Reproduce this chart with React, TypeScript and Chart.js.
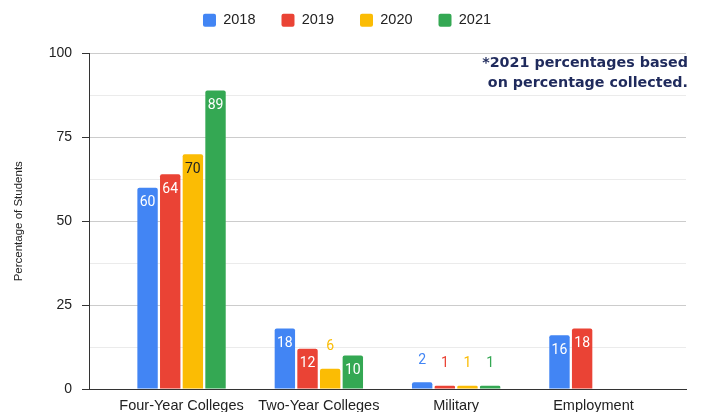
import React, { useEffect, useRef } from "react";
import { Chart, registerables } from "chart.js";

Chart.register(...registerables);

const categories = ["Four-Year Colleges", "Two-Year Colleges", "Military", "Employment"];
const years = ["2018", "2019", "2020", "2021"];
const values2018 = [60, 18, 2, 16];
const values2019 = [64, 12, 1, 18];
const values2020 = [70, 6, 1, null];
const values2021 = [89, 10, 1, null];
const yTicks = [0, 12.5, 25, 37.5, 50, 62.5, 75, 87.5, 100];
const noteLines = ["*2021 percentages based", "on percentage collected."];

const colors = ["#4285F4", "#EA4335", "#FBBC04", "#34A853"];
const insideColors = ["#ffffff", "#ffffff", "#222222", "#ffffff"];

const labelPlugin = {
  id: "barLabels",
  afterDatasetsDraw(chart: any) {
    const ctx = chart.ctx;
    ctx.save();
    ctx.font = "14px Roboto";
    ctx.textAlign = "center";
    ctx.textBaseline = "middle";
    chart.data.datasets.forEach((ds: any, i: number) => {
      const meta = chart.getDatasetMeta(i);
      meta.data.forEach((bar: any, j: number) => {
        const pt = ds.data[j];
        if (!pt || pt.y === null || pt.y === undefined) return;
        const { x, y, base } = bar.getProps(["x", "y", "base"], true);
        const h = base - y;
        if (h < 30) {
          ctx.fillStyle = colors[i];
          ctx.fillText(String(pt.y), x, y - 22);
        } else {
          ctx.fillStyle = insideColors[i];
          ctx.fillText(String(pt.y), x, y + 15);
        }
      });
    });
    ctx.restore();
  },
};

export default function App() {
  const canvasRef = useRef<HTMLCanvasElement | null>(null);

  useEffect(() => {
    document.body.style.margin = "0";
    const series = [values2018, values2019, values2020, values2021];
    const chart = new Chart(canvasRef.current as HTMLCanvasElement, {
      type: "bar",
      data: {
        datasets: series.map((vals, i) => ({
          label: years[i],
          data: vals.map((v, j) => ({ x: j, y: v })),
          backgroundColor: colors[i],
          borderRadius: 2,
          categoryPercentage: 0.66,
          barPercentage: 0.9,
        })),
      },
      options: {
        animation: false,
        responsive: true,
        maintainAspectRatio: false,
        layout: { padding: { left: 8, right: 16, top: -13, bottom: 0 } },
        plugins: {
          legend: {
            position: "top",
            labels: {
              boxWidth: 13,
              boxHeight: 13,
              useBorderRadius: true,
              borderRadius: 2,
              padding: 26,
              color: "#222",
              font: { family: "Liberation Sans", size: 14.5 },
            },
          },
          subtitle: {
            display: true,
            text: " ",
            position: "top",
            weight: 500,
            padding: 0,
            font: { size: 10, lineHeight: 1.6 },
          },
          tooltip: { enabled: false },
        },
        scales: {
          x: {
            type: "linear",
            min: -0.674,
            max: 3.674,
            offset: false,
            bounds: "data",
            afterBuildTicks(scale: any) {
              scale.ticks = categories.map((_, i) => ({ value: i }));
            },
            afterFit(scale: any) {
              scale.height = 23;
            },
            ticks: {
              padding: 8,
              color: "#222",
              font: { family: "Liberation Sans", size: 14.5 },
              maxRotation: 0,
              autoSkip: false,
              callback: (v: any) => categories[Math.round(Number(v))] ?? "",
            },
            grid: { display: false, drawTicks: false, offset: false },
            border: { display: true, color: "#333", width: 1 },
          },
          y: {
            min: 0,
            max: 100,
            afterBuildTicks(scale: any) {
              scale.ticks = yTicks.map((v) => ({ value: v }));
            },
            afterFit(scale: any) {
              scale.width = 81;
            },
            title: {
              display: true,
              text: "Percentage of Students",
              color: "#222",
              font: { family: "Liberation Sans", size: 11.5 },
              padding: { top: 3.5, bottom: 0 },
            },
            ticks: {
              padding: 10,
              color: "#222",
              font: { family: "Liberation Sans", size: 14 },
              callback: (v: any) => (Number(v) % 25 === 0 ? String(v) : ""),
            },
            grid: {
              tickLength: 7,
              color: (c: any) => (c.tick && c.tick.value % 25 === 0 ? "#cccccc" : "#ebebeb"),
              tickColor: (c: any) => (c.tick && c.tick.value % 25 === 0 ? "#333333" : "rgba(0,0,0,0)"),
            },
            border: { display: true, color: "#333", width: 1 },
          },
        },
      },
      plugins: [labelPlugin],
    } as any);
    return () => chart.destroy();
  }, []);

  return (
    <div style={{ position: "relative", width: 702, height: 412 }}>
      <canvas ref={canvasRef} />
      <div
        style={{
          position: "absolute",
          right: 14,
          top: 52,
          textAlign: "right",
          fontFamily: "DejaVu Sans",
          fontWeight: "bold",
          fontSize: 14.3,
          lineHeight: "20px",
          color: "#1f2a5c",
          whiteSpace: "nowrap",
        }}
      >
        {noteLines.map((l, i) => (
          <div key={i}>{l}</div>
        ))}
      </div>
    </div>
  );
}
